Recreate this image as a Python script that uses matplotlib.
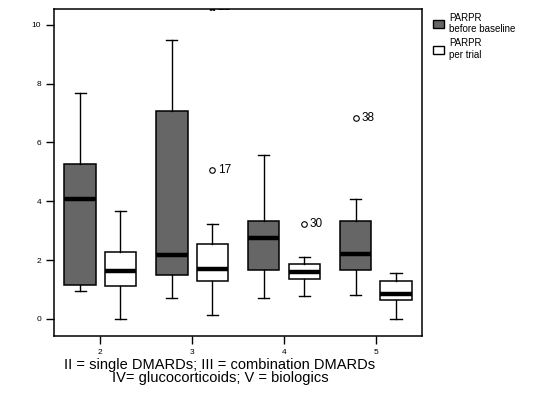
import matplotlib
matplotlib.use('Agg')
import matplotlib.pyplot as plt
from matplotlib.patches import Patch

plt.rcParams['font.family'] = ['Liberation Sans', 'DejaVu Sans']

# Groups on the x axis
groups = [2, 3, 4, 5]

# PARPR before baseline (dark boxes)
before_whislo = [0.95, 0.70, 0.70, 0.81]
before_q1 = [1.15, 1.49, 1.66, 1.66]
before_med = [4.08, 2.16, 2.74, 2.20]
before_q3 = [5.27, 7.07, 3.33, 3.33]
before_whishi = [7.68, 9.48, 5.58, 4.07]

# PARPR per trial (white boxes)
trial_whislo = [0.00, 0.13, 0.77, 0.00]
trial_q1 = [1.12, 1.30, 1.36, 0.66]
trial_med = [1.62, 1.69, 1.58, 0.86]
trial_q3 = [2.28, 2.55, 1.86, 1.29]
trial_whishi = [3.67, 3.23, 2.12, 1.56]

# Outliers: (group, series, value, case label)
outliers = [(3, 'trial', 5.07, '17'), (4, 'trial', 3.23, '30'), (5, 'before', 6.83, '38')]
extremes = [(3, 'trial', 10.62, '21')]

offset = 0.22
box_w = 0.34

fig = plt.figure(figsize=(5.39, 3.97), dpi=100)
ax = fig.add_axes([0.1008, 0.1537, 0.6816, 0.8229])


def stats(lo, q1, med, q3, hi):
    return [dict(whislo=a, q1=b, med=c, q3=d, whishi=e, fliers=[])
            for a, b, c, d, e in zip(lo, q1, med, q3, hi)]


for st, shift, color in [
        (stats(before_whislo, before_q1, before_med, before_q3, before_whishi), -offset, '#666666'),
        (stats(trial_whislo, trial_q1, trial_med, trial_q3, trial_whishi), offset, 'white')]:
    ax.bxp(st, positions=[g + shift for g in groups], widths=box_w, capwidths=0.12,
           patch_artist=True, showfliers=False,
           boxprops=dict(facecolor=color, edgecolor='black', linewidth=1.1),
           medianprops=dict(color='black', linewidth=3.2, solid_capstyle='butt'),
           whiskerprops=dict(color='black', linewidth=1.0),
           capprops=dict(color='black', linewidth=1.0),
           manage_ticks=False)

for g, series, v, lab in outliers:
    x = g + (offset if series == 'trial' else -offset)
    ax.plot(x, v, marker='o', mfc='white', mec='black', ms=4, mew=0.8)
    ax.text(x + 0.06, v, lab, fontsize=8.5, va='center', ha='left')

for g, series, v, lab in extremes:
    x = g + (offset if series == 'trial' else -offset)
    ax.plot(x, v, marker='*', color='black', ms=6, clip_on=True)
    ax.text(x + 0.06, v, lab, fontsize=8.5, va='center', ha='left', clip_on=True)

ax.set_xlim(1.5, 5.5)
ax.set_ylim(-0.58, 10.53)
ax.set_xticks(groups)
ax.set_yticks([0, 2, 4, 6, 8, 10])
ax.tick_params(direction='out', length=6, width=1, labelsize=6)
for s in ax.spines.values():
    s.set_linewidth(1.1)

ax.set_xlabel('II = single DMARDs; III = combination DMARDs\nIV= glucocorticoids; V = biologics',
              fontsize=10.5, linespacing=0.95, labelpad=1, x=0.451)

handles = [Patch(facecolor='#666666', edgecolor='black', label='PARPR\nbefore baseline'),
           Patch(facecolor='white', edgecolor='black', label='PARPR\nper trial')]
fig.legend(handles=handles, loc='upper left', bbox_to_anchor=(0.79, 0.985), frameon=False,
           fontsize=7, handlelength=1.2, handleheight=0.9, handletextpad=0.5,
           labelspacing=0.4, borderpad=0.2)

fig.savefig('out.png', dpi=100)
